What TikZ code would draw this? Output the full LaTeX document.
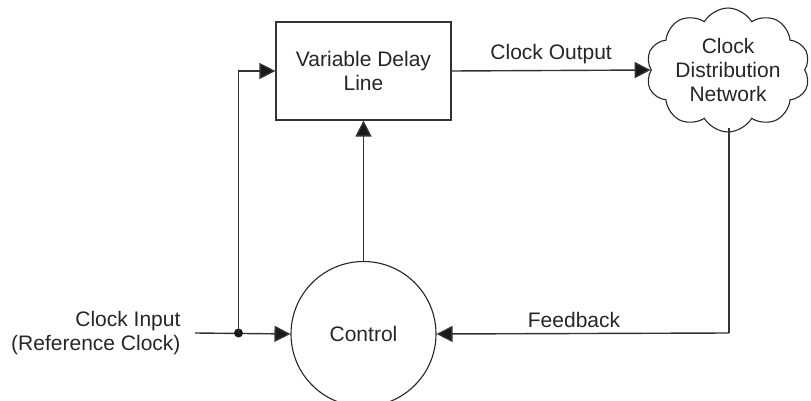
\documentclass[tikz,border=0pt]{standalone}
\usepackage{fontspec}
\setmainfont{Liberation Sans}
\usetikzlibrary{arrows.meta,shapes.symbols}
\begin{document}
\begin{tikzpicture}[x=1pt,y=-1pt,
  every node/.style={font=\fontsize{21}{24}\selectfont, text=black!85},
  conn/.style={line width=1.4pt, draw=black!80, -{Triangle[length=16pt,width=16pt,fill=black!90]}},
  plainline/.style={line width=1.4pt, draw=black!80},
  boxstyle/.style={draw=black!80, line width=1.2pt, minimum width=175pt, minimum height=98pt, align=center, inner sep=0pt},
  ctrlstyle/.style={circle, draw=black!85, line width=1.1pt, minimum size=145pt, inner sep=0pt},
  cloudstyle/.style={cloud, cloud puffs=10, cloud puff arc=120, aspect=1.45, draw=black!85, line width=1.1pt, minimum width=164pt, minimum height=116pt, inner sep=0pt, align=center}
]
\useasboundingbox (0,0) rectangle (811,401);
\node[boxstyle] (vdl) at (363.5,71) {Variable Delay\\Line};
\node[ctrlstyle] (ctrl) at (363.5,334) {Control};
\node[cloudstyle] (cdn) at (728,70) {Clock\\Distribution\\Network};
\node[anchor=east, align=right] (inlabel) at (184,333) {Clock Input\\(Reference Clock)};
\coordinate (in) at (195,333);
\coordinate (split) at (238.5,333);
\draw[conn] (in) -- (ctrl.west);
\fill[black!90] (split) circle (4.5pt);
\draw[conn] (split) |- (vdl.west);
\draw[conn] (ctrl.north) -- (vdl.south);
\draw[conn] (vdl.east) -- node[above=3pt] (outlabel) {Clock Output} (cdn.west);
\coordinate (fbtop) at (729,128);
\coordinate (fbcorner) at (729,333);
\draw[plainline] (fbtop) -- (fbcorner);
\draw[conn] (fbcorner) -- node[pos=0.53, above=2pt] (fblabel) {Feedback} (ctrl.east);
\end{tikzpicture}
\end{document}
